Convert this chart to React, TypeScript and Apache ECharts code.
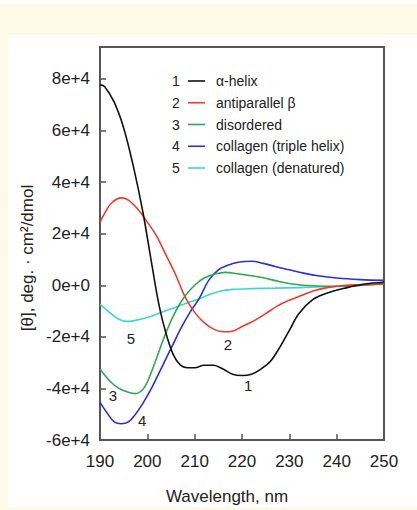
import React, { useEffect, useRef } from "react";
import * as echarts from "echarts";

// ---- data (wavelength in nm, mean residue ellipticity in deg·cm²/dmol) ----
const SERIES_NAMES = ["α-helix", "antiparallel β", "disordered", "collagen (triple helix)", "collagen (denatured)"];
const SERIES_COLORS = ["#111111", "#ee3b2c", "#2eaa4e", "#2b30d8", "#3ad8d4"];

const WL_ALPHA = [190, 191, 193, 195, 197, 199, 201, 202.5, 204, 205.5, 207, 208.5, 210, 212, 214, 216, 218, 220, 222, 224, 226, 228, 230, 232, 235, 238, 242, 246, 250];
const CD_ALPHA = [77700, 77000, 71000, 61000, 46500, 29000, 7500, -8000, -19000, -27000, -31000, -32000, -32000, -31000, -31000, -32500, -34500, -35000, -34500, -32500, -29500, -24000, -17500, -11000, -5500, -3000, -1000, 500, 1200];

const WL_BETA = [190, 191, 192.5, 194.5, 196, 198, 200, 202, 204, 206, 208, 210, 212, 214, 216, 218, 220, 222.5, 225, 227.5, 230, 232.5, 235, 238, 242, 246, 250];
const CD_BETA = [24400, 28000, 32000, 33900, 33000, 29500, 24500, 19000, 11500, 4000, -4600, -10500, -14500, -17000, -18000, -17800, -16000, -13800, -11000, -8000, -5800, -4000, -2200, -900, 0, 300, 400];

const WL_DISORD = [190, 192, 194, 196, 197.5, 199, 200, 202, 204, 206, 208, 210, 212, 214, 216.5, 219, 222, 225, 228, 232, 236, 240, 245, 250];
const CD_DISORD = [-32500, -37000, -40000, -41500, -42000, -40500, -37500, -28000, -18000, -10000, -4100, 0, 2800, 4200, 5000, 4500, 3700, 2700, 1400, 200, -300, -400, 0, 600];

const WL_COLL = [190, 191.5, 193, 194.5, 196, 197.5, 199, 201, 203, 205, 207, 209, 211, 213, 215, 217, 219.5, 222, 224.5, 227, 230, 233, 236, 240, 245, 250];
const CD_COLL = [-45400, -49500, -53000, -53700, -53000, -50000, -46000, -39500, -32000, -24500, -17000, -10500, -5000, 2000, 6000, 7800, 9000, 9300, 8500, 7300, 6000, 4700, 3700, 2800, 2200, 1900];

const WL_DENAT = [190, 192, 194, 195.5, 197, 200, 203, 206, 209, 211, 213, 215.5, 218, 222, 227, 232, 237, 243, 250];
const CD_DENAT = [-7300, -10500, -13200, -14000, -13800, -12500, -10500, -8500, -6500, -5200, -3700, -2200, -1600, -1300, -1100, -900, -600, -300, 600];

// curve number annotations [wavelength, value]
const CURVE_LABEL_POS: [number, number][] = [
  [221.3, -39000],
  [217.0, -22800],
  [192.75, -42900],
  [198.9, -52600],
  [196.55, -20500],
];

const X_MIN = 190;
const X_MAX = 250;
const X_INTERVAL = 10;
const Y_MIN = -60000;
const Y_MAX = 92400;
const Y_INTERVAL = 20000;

const WLS = [WL_ALPHA, WL_BETA, WL_DISORD, WL_COLL, WL_DENAT];
const CDS = [CD_ALPHA, CD_BETA, CD_DISORD, CD_COLL, CD_DENAT];

const FONT = "'Liberation Sans', Arial, Helvetica, sans-serif";

export default function App() {
  const ref = useRef<HTMLDivElement>(null);

  useEffect(() => {
    if (!ref.current) return;
    const chart = echarts.init(ref.current, undefined, { renderer: "svg" });

    const series = SERIES_NAMES.map((name, i) => ({
      name,
      type: "line",
      data: WLS[i].map((w, j) => [w, CDS[i][j]]),
      smooth: 0.35,
      showSymbol: false,
      symbol: "none",
      lineStyle: { color: SERIES_COLORS[i], width: 1.6 },
      itemStyle: { color: SERIES_COLORS[i] },
      z: 5 - i + 2,
      markPoint: {
        symbol: "circle",
        symbolSize: 0,
        silent: true,
        label: {
          show: true,
          position: "inside",
          formatter: String(i + 1),
          color: "#222",
          fontSize: 15,
          fontFamily: FONT,
        },
        data: [{ coord: CURVE_LABEL_POS[i] }],
      },
    }));

    const legendTop = 81;
    const legendStep = 21.75;
    const legendEls: any[] = [];
    SERIES_NAMES.forEach((name, i) => {
      const y = legendTop + i * legendStep;
      legendEls.push({
        type: "text",
        x: 176,
        y,
        style: {
          text: String(i + 1),
          font: `14px ${FONT}`,
          fill: "#222",
          align: "center",
          verticalAlign: "middle",
          textAlign: "center",
          textVerticalAlign: "middle",
        },
      });
      legendEls.push({
        type: "line",
        shape: { x1: 188, y1: y, x2: 205, y2: y },
        style: { stroke: SERIES_COLORS[i], lineWidth: 1.6 },
      });
      legendEls.push({
        type: "text",
        x: 216,
        y,
        style: {
          text: name,
          font: `14px ${FONT}`,
          fill: "#222",
          align: "left",
          verticalAlign: "middle",
          textAlign: "left",
          textVerticalAlign: "middle",
        },
      });
    });

    chart.setOption({
      animation: false,
      backgroundColor: "transparent",
      grid: {
        left: 100,
        right: 33,
        top: 47,
        bottom: 70,
        show: true,
        borderColor: "#555",
        borderWidth: 2,
        backgroundColor: "transparent",
      },
      xAxis: {
        type: "value",
        min: X_MIN,
        max: X_MAX,
        interval: X_INTERVAL,
        axisLine: { show: false, onZero: false },
        axisTick: { show: true, inside: true, length: 6, lineStyle: { color: "#555", width: 1.5 } },
        splitLine: { show: false },
        axisLabel: { color: "#222", fontSize: 17, fontFamily: FONT, margin: 13 },
      },
      yAxis: {
        type: "value",
        min: Y_MIN,
        max: Y_MAX,
        interval: Y_INTERVAL,
        axisLine: { show: false, onZero: false },
        axisTick: { show: true, inside: true, length: 6, lineStyle: { color: "#555", width: 1.5 } },
        splitLine: { show: false },
        axisLabel: {
          color: "#222",
          fontSize: 17,
          fontFamily: FONT,
          margin: 10,
          showMaxLabel: false,
          formatter: (v: number) => {
            if (Math.abs(v / Y_INTERVAL - Math.round(v / Y_INTERVAL)) > 1e-6) return "";
            const n = Math.round(v / 10000);
            return n === 0 ? "0e+0" : `${n}e+4`;
          },
        },
      },
      series,
      graphic: [
        {
          type: "text",
          x: 27,
          y: 258,
          rotation: Math.PI / 2,
          style: {
            text: "[θ], deg. · cm²/dmol",
            font: `17px ${FONT}`,
            fill: "#222",
            align: "center",
            verticalAlign: "middle",
            textAlign: "center",
            textVerticalAlign: "middle",
          },
        },
        {
          type: "text",
          x: 227,
          y: 496,
          style: {
            text: "Wavelength, nm",
            font: `17px ${FONT}`,
            fill: "#222",
            align: "center",
            verticalAlign: "middle",
            textAlign: "center",
            textVerticalAlign: "middle",
          },
        },
        ...legendEls,
      ],
    });

    return () => chart.dispose();
  }, []);

  return (
    <div style={{ position: "fixed", left: 0, top: 0, width: 417, height: 510, background: "#fefae8", overflow: "hidden" }}>
      <div style={{ position: "absolute", left: 0, top: 0, right: 0, height: 4, background: "#fffef8" }} />
      <div style={{ position: "absolute", left: 8, top: 35, right: 0, bottom: 3, background: "#ffffff" }} />
      <div ref={ref} style={{ position: "absolute", left: 0, top: 0, width: 417, height: 510 }} />
    </div>
  );
}
